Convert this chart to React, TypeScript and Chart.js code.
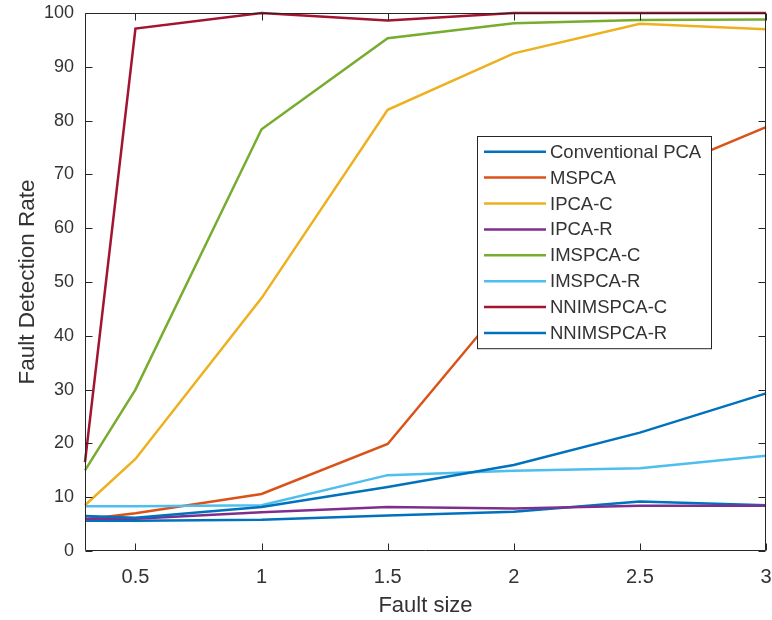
import React, { useEffect, useRef } from 'react';
import { Chart, registerables } from 'chart.js';

Chart.register(...registerables);

const faultSizes = [0.3, 0.5, 1, 1.5, 2, 2.5, 3];
const xTickValues = [0.5, 1, 1.5, 2, 2.5, 3];
const yTickValues = [0, 10, 20, 30, 40, 50, 60, 70, 80, 90, 100];

const conventionalPCA = [5.6, 5.6, 5.8, 6.6, 7.3, 9.2, 8.5];
const mspca = [5.9, 7.0, 10.6, 19.9, 48, 69, 78.8];
const ipcaC = [8.5, 17.1, 47, 82, 92.5, 98, 97];
const ipcaR = [6.0, 6.0, 7.2, 8.2, 7.9, 8.4, 8.4];
const imspcaC = [15, 30, 78.4, 95.3, 98.1, 98.7, 98.8];
const imspcaR = [8.3, 8.3, 8.5, 14.1, 14.9, 15.4, 17.7];
const nnimspcaC = [16.5, 97.1, 100, 98.6, 100, 100, 100];
const nnimspcaR = [6.5, 6.2, 8.2, 11.9, 16, 22, 29.3];

const seriesNames = [
  'Conventional PCA',
  'MSPCA',
  'IPCA-C',
  'IPCA-R',
  'IMSPCA-C',
  'IMSPCA-R',
  'NNIMSPCA-C',
  'NNIMSPCA-R',
];
const seriesValues = [conventionalPCA, mspca, ipcaC, ipcaR, imspcaC, imspcaR, nnimspcaC, nnimspcaR];
const seriesColors = ['#0072BD', '#D95319', '#EDB120', '#7E2F8E', '#77AC30', '#4DBEEE', '#A2142F', '#0072BD'];

const AXIS_COLOR = '#262626';
const TEXT_COLOR = '#333333';
const FONT = '"Liberation Sans", Arial, Helvetica, sans-serif';

const matlabAxesPlugin = {
  id: 'matlabAxes',
  afterDatasetsDraw(chart: any) {
    const { ctx, chartArea: a, scales } = chart;
    ctx.save();
    ctx.strokeStyle = AXIS_COLOR;
    ctx.lineWidth = 1;
    const L = Math.round(a.left) + 0.5;
    const R = Math.round(a.right) - 0.5;
    const T = Math.round(a.top) + 0.5;
    const B = Math.round(a.bottom) - 0.5;
    ctx.beginPath();
    ctx.rect(L, T, R - L, B - T);
    ctx.stroke();
    const tl = 7;
    ctx.beginPath();
    xTickValues.forEach((v) => {
      const px = Math.round(scales.x.getPixelForValue(v)) + 0.5;
      ctx.moveTo(px, B);
      ctx.lineTo(px, B - tl);
      ctx.moveTo(px, T);
      ctx.lineTo(px, T + tl);
    });
    yTickValues.forEach((v) => {
      const py = Math.round(scales.y.getPixelForValue(v)) + 0.5;
      ctx.moveTo(L, py);
      ctx.lineTo(L + tl, py);
      ctx.moveTo(R, py);
      ctx.lineTo(R - tl, py);
    });
    ctx.stroke();

    // legend box
    const boxW = 234;
    const rowH = 25.9;
    const boxRight = Math.round(a.right) - 55;
    const boxLeft = boxRight - boxW;
    const boxTop = Math.round(a.top) + 123;
    const boxH = rowH * seriesNames.length + 5;
    ctx.fillStyle = '#ffffff';
    ctx.fillRect(boxLeft + 0.5, boxTop + 0.5, boxW, boxH);
    ctx.strokeStyle = AXIS_COLOR;
    ctx.lineWidth = 1;
    ctx.strokeRect(boxLeft + 0.5, boxTop + 0.5, boxW, boxH);
    ctx.font = `18.5px ${FONT}`;
    ctx.textBaseline = 'middle';
    ctx.textAlign = 'left';
    seriesNames.forEach((name, i) => {
      const cy = boxTop + 15.7 + i * rowH;
      ctx.strokeStyle = seriesColors[i];
      ctx.lineWidth = 2.5;
      ctx.beginPath();
      ctx.moveTo(boxLeft + 7, cy);
      ctx.lineTo(boxLeft + 69, cy);
      ctx.stroke();
      ctx.fillStyle = TEXT_COLOR;
      ctx.fillText(name, boxLeft + 73, cy + 1);
    });
    ctx.restore();
  },
};

export default function App() {
  const canvasRef = useRef<HTMLCanvasElement | null>(null);

  useEffect(() => {
    if (!canvasRef.current) return;
    const n = seriesNames.length;
    const chart = new Chart(canvasRef.current, {
      type: 'line',
      data: {
        datasets: seriesNames.map((name, i) => ({
          label: name,
          data: faultSizes.map((x, j) => ({ x, y: seriesValues[i][j] })),
          borderColor: seriesColors[i],
          backgroundColor: seriesColors[i],
          borderWidth: 2.5,
          pointRadius: 0,
          pointHoverRadius: 0,
          tension: 0,
          fill: false,
          clip: 4,
          order: n - i,
        })),
      },
      options: {
        responsive: false,
        devicePixelRatio: 1,
        animation: false,
        events: [],
        layout: { padding: { top: 13, right: 6, left: 0, bottom: 0 } },
        plugins: {
          legend: { display: false },
          tooltip: { enabled: false },
        },
        scales: {
          x: {
            type: 'linear',
            min: 0.3,
            max: 3,
            grid: { display: false, drawTicks: false },
            border: { display: false },
            afterBuildTicks: (scale: any) => {
              scale.ticks = xTickValues.map((v) => ({ value: v }));
            },
            afterFit: (scale: any) => {
              scale.height = 69;
              scale.paddingLeft = 0;
              scale.paddingRight = 0;
            },
            ticks: {
              color: TEXT_COLOR,
              font: { family: FONT, size: 20 },
              padding: 14,
              maxRotation: 0,
              autoSkip: false,
              callback: (v: any) => String(v),
            },
            title: {
              display: true,
              text: 'Fault size',
              color: TEXT_COLOR,
              font: { family: FONT, size: 22 },
              padding: { top: 0, bottom: 1 },
            },
          },
          y: {
            type: 'linear',
            min: 0,
            max: 100,
            grid: { display: false, drawTicks: false },
            border: { display: false },
            afterBuildTicks: (scale: any) => {
              scale.ticks = yTickValues.map((v) => ({ value: v }));
            },
            afterFit: (scale: any) => {
              scale.width = 85;
              scale.paddingTop = 0;
              scale.paddingBottom = 0;
            },
            ticks: {
              color: TEXT_COLOR,
              font: { family: FONT, size: 18 },
              padding: 11,
              autoSkip: false,
            },
            title: {
              display: true,
              text: 'Fault Detection Rate',
              color: TEXT_COLOR,
              font: { family: FONT, size: 22.5 },
              padding: { top: 14, bottom: 0 },
            },
          },
        },
      },
      plugins: [matlabAxesPlugin],
    });
    return () => chart.destroy();
  }, []);

  return (
    <div style={{ position: 'absolute', left: 0, top: 0, width: 772, height: 620, background: '#ffffff' }}>
      <canvas ref={canvasRef} width={772} height={620} style={{ display: 'block', width: 772, height: 620 }} />
    </div>
  );
}
